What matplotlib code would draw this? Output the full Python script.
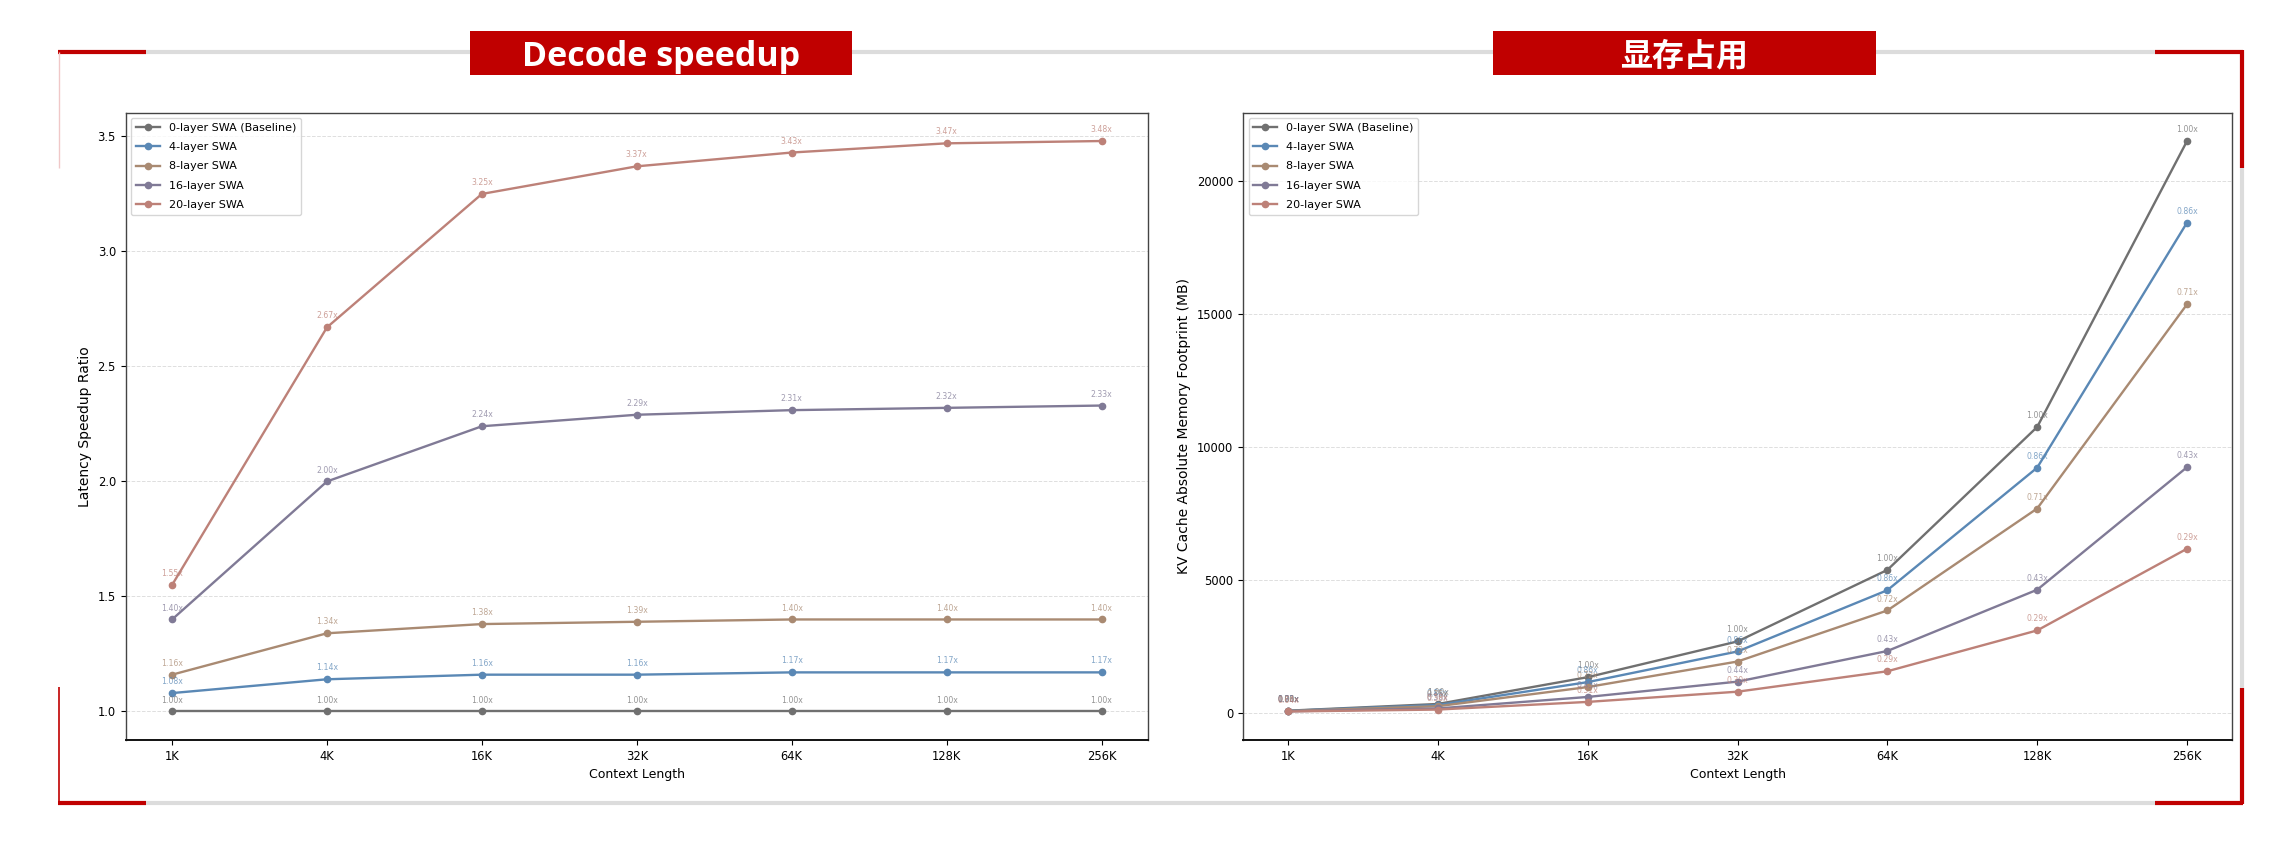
import matplotlib
matplotlib.use("Agg")
import matplotlib.pyplot as plt
from matplotlib.patches import Rectangle

# ---------------- data ----------------
contexts = ["1K", "4K", "16K", "32K", "64K", "128K", "256K"]
series_names = ["0-layer SWA (Baseline)", "4-layer SWA", "8-layer SWA",
                "16-layer SWA", "20-layer SWA"]
colors = ["#707070", "#5a88b5", "#a98a72", "#807a96", "#bd8178"]

speed_base = [1.00, 1.00, 1.00, 1.00, 1.00, 1.00, 1.00]
speed_4 = [1.08, 1.14, 1.16, 1.16, 1.17, 1.17, 1.17]
speed_8 = [1.16, 1.34, 1.38, 1.39, 1.40, 1.40, 1.40]
speed_16 = [1.40, 2.00, 2.24, 2.29, 2.31, 2.32, 2.33]
speed_20 = [1.55, 2.67, 3.25, 3.37, 3.43, 3.47, 3.48]

mem_base = [84, 336, 1344, 2688, 5376, 10752, 21504]
mem_4 = [78, 294, 1158, 2310, 4614, 9222, 18438]
mem_8 = [72, 252, 972, 1932, 3852, 7686, 15366]
mem_16 = [60, 168, 600, 1176, 2328, 4632, 9240]
mem_20 = [54, 126, 414, 798, 1566, 3102, 6174]

title_left = "Decode speedup"
title_right = "显存占用"
xlabel = "Context Length"
ylabel_left = "Latency Speedup Ratio"
ylabel_right = "KV Cache Absolute Memory Footprint (MB)"

speed_series = [speed_base, speed_4, speed_8, speed_16, speed_20]
mem_series = [mem_base, mem_4, mem_8, mem_16, mem_20]

# ---------------- figure ----------------
W, H = 2291, 847
fig = plt.figure(figsize=(W / 100, H / 100), dpi=100)
fig.patch.set_facecolor("white")

# decorative frame (pixel coordinates on an overlay axes)
bg = fig.add_axes([0, 0, 1, 1], zorder=0)
bg.set_xlim(0, W)
bg.set_ylim(H, 0)
bg.axis("off")
RED = "#c00000"
GRAY = "#dcdcdc"
lw_frame = 3.0
bg.plot([58, 2243], [52, 52], color=GRAY, lw=lw_frame, solid_capstyle="butt")
bg.plot([58, 2243], [803, 803], color=GRAY, lw=lw_frame, solid_capstyle="butt")
bg.plot([2242, 2242], [52, 803], color=GRAY, lw=lw_frame, solid_capstyle="butt")
bg.plot([58, 146], [52, 52], color=RED, lw=lw_frame, solid_capstyle="butt")
bg.plot([2155, 2243], [52, 52], color=RED, lw=lw_frame, solid_capstyle="butt")
bg.plot([58, 146], [803, 803], color=RED, lw=lw_frame, solid_capstyle="butt")
bg.plot([2155, 2243], [803, 803], color=RED, lw=lw_frame, solid_capstyle="butt")
bg.plot([2242, 2242], [50.5, 168], color=RED, lw=lw_frame, solid_capstyle="butt")
bg.plot([2242, 2242], [688, 804.5], color=RED, lw=lw_frame, solid_capstyle="butt")
bg.plot([59, 59], [52, 168], color="#f0c8c8", lw=1.0, solid_capstyle="butt")
bg.plot([59, 59], [687, 803], color=RED, lw=1.2, solid_capstyle="butt")

# title boxes
for (x0, x1, txt, fam, fs) in [(470, 852, title_left, ["Open Sans", "DejaVu Sans"], 24.5),
                               (1493, 1876, title_right, ["Noto Sans CJK SC", "DejaVu Sans"], 23)]:
    bg.add_patch(Rectangle((x0, 31), x1 - x0, 44, facecolor=RED, edgecolor="none", zorder=3))
    bg.text((x0 + x1) / 2, 53, txt, color="white", fontsize=fs, fontweight="bold",
            family=fam, ha="center", va="center_baseline", zorder=4)

# chart axes
axL = fig.add_axes([125.6 / W, 1 - 740 / H, (1148 - 125.6) / W, (740 - 112.5) / H], zorder=2)
axR = fig.add_axes([1243 / W, 1 - 740 / H, (2232 - 1243) / W, (740 - 112.5) / H], zorder=2)

x = list(range(len(contexts)))


def draw(ax, series, ratio_base=None):
    for i, (name, vals, c) in enumerate(zip(series_names, series, colors)):
        ax.plot(x, vals, color=c, lw=1.7, marker="o", markersize=4.5, label=name, zorder=3)
        for j, v in enumerate(vals):
            if ratio_base is None:
                lab = f"{v:.2f}x"
            else:
                lab = f"{v / ratio_base[j]:.2f}x"
            ax.annotate(lab, (x[j], v), xytext=(0, 5), textcoords="offset points",
                        ha="center", va="bottom", fontsize=5.6, color=c, alpha=0.75, zorder=4)
    ax.set_xticks(x)
    ax.set_xticklabels(contexts)
    ax.tick_params(labelsize=8.3, length=3.5)
    ax.set_xlabel(xlabel, fontsize=9)
    ax.grid(axis="y", linestyle="--", color="#d0d0d0", lw=0.7, alpha=0.7)
    ax.set_axisbelow(True)
    for s in ["left", "top", "right"]:
        ax.spines[s].set_color("#444444")
        ax.spines[s].set_linewidth(1.0)
    ax.spines["bottom"].set_color("#111111")
    ax.spines["bottom"].set_linewidth(1.4)
    ax.legend(loc="upper left", fontsize=8, framealpha=0.8, edgecolor="#cccccc",
              labelspacing=0.85, handlelength=2.2)


draw(axL, speed_series)
axL.set_ylabel(ylabel_left, fontsize=10)
draw(axR, mem_series, ratio_base=mem_base)
axR.set_ylabel(ylabel_right, fontsize=10)

fig.savefig("out.png", dpi=100, facecolor="white")
